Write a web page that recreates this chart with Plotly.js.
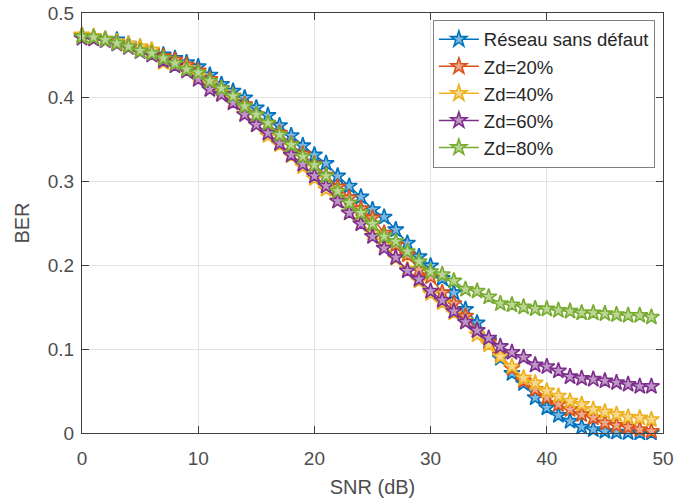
<!DOCTYPE html>
<html>
<head>
<meta charset="utf-8">
<script src="https://cdn.plot.ly/plotly-3.0.1.min.js"></script>
<style>html,body{margin:0;padding:0;background:#fff;}#chart{width:676px;height:502px;}</style>
</head>
<body>
<div id="chart"></div>
<script>
const snr = Array.from({length: 50}, (_, i) => i);
const seriesNames = ["Réseau sans défaut", "Zd=20%", "Zd=40%", "Zd=60%", "Zd=80%"];
const berSansDefaut = [0.473,0.471,0.469,0.468,0.463,0.459,0.455,0.450,0.446,0.441,0.436,0.426,0.415,0.407,0.399,0.387,0.378,0.366,0.354,0.342,0.331,0.321,0.306,0.294,0.281,0.266,0.257,0.242,0.226,0.210,0.199,0.184,0.167,0.147,0.131,0.110,0.089,0.071,0.059,0.042,0.030,0.021,0.014,0.007,0.004,0.002,0.001,0.0005,0.0002,0.0001];
const berZd20 = [0.473,0.471,0.468,0.465,0.462,0.458,0.454,0.448,0.444,0.438,0.431,0.421,0.410,0.401,0.391,0.379,0.368,0.357,0.344,0.332,0.320,0.307,0.293,0.280,0.267,0.256,0.238,0.224,0.212,0.194,0.186,0.167,0.154,0.139,0.122,0.108,0.093,0.077,0.062,0.052,0.042,0.034,0.028,0.022,0.018,0.012,0.009,0.007,0.004,0.002];
const berZd40 = [0.474,0.472,0.469,0.466,0.463,0.460,0.456,0.441,0.440,0.434,0.425,0.416,0.405,0.395,0.380,0.367,0.354,0.343,0.330,0.317,0.303,0.290,0.276,0.262,0.250,0.238,0.224,0.208,0.195,0.181,0.166,0.155,0.143,0.133,0.117,0.105,0.091,0.079,0.0655,0.0595,0.050,0.044,0.038,0.034,0.028,0.025,0.022,0.019,0.018,0.016];
const berZd60 = [0.470,0.469,0.467,0.463,0.459,0.454,0.450,0.443,0.437,0.431,0.421,0.409,0.403,0.393,0.379,0.367,0.357,0.345,0.331,0.320,0.306,0.294,0.276,0.262,0.249,0.234,0.220,0.209,0.193,0.183,0.169,0.158,0.145,0.132,0.122,0.113,0.103,0.096,0.090,0.081,0.079,0.074,0.067,0.065,0.064,0.062,0.060,0.058,0.0555,0.0555];
const berZd80 = [0.472,0.471,0.468,0.464,0.460,0.455,0.452,0.446,0.440,0.433,0.429,0.419,0.410,0.401,0.389,0.379,0.369,0.355,0.343,0.329,0.319,0.306,0.288,0.274,0.262,0.249,0.234,0.228,0.216,0.204,0.192,0.1885,0.181,0.171,0.169,0.162,0.154,0.1525,0.150,0.148,0.1476,0.146,0.145,0.143,0.143,0.142,0.141,0.140,0.140,0.138];
const xTicks = [0, 10, 20, 30, 40, 50];
const yTicks = [0, 0.1, 0.2, 0.3, 0.4, 0.5];

const colors = ["#0072BD", "#D95319", "#EDB120", "#7E2F8E", "#77AC30"];
const fills = ["#7fb8de", "#eca98c", "#f6d88f", "#be97c6", "#bbd597"];
const allY = [berSansDefaut, berZd20, berZd40, berZd60, berZd80];

const traces = allY.map((y, i) => ({
  x: snr, y: y, name: seriesNames[i], type: "scatter", mode: "lines+markers",
  cliponaxis: false,
  line: {color: colors[i], width: 1.5},
  marker: {symbol: "star", size: 12, color: fills[i], line: {color: colors[i], width: 1.6}}
}));

const fam = "Liberation Sans, Arial, sans-serif";
const axisCommon = {
  showline: true, linecolor: "#404040", linewidth: 1, mirror: "ticks",
  ticks: "inside", ticklen: 7, tickcolor: "#404040", tickwidth: 1,
  showgrid: true, gridcolor: "#e3e3e3", gridwidth: 1, zeroline: false,
  tickfont: {family: fam, size: 19, color: "#4d4d4d"}
};

const layout = {
  width: 676, height: 502,
  margin: {l: 82, r: 13, t: 13, b: 69},
  paper_bgcolor: "#fff", plot_bgcolor: "#fff",
  showlegend: true,
  xaxis: Object.assign({}, axisCommon, {
    range: [0, 50], tickvals: xTicks, ticktext: xTicks.map(String), ticklabelstandoff: 8,
    title: {text: "SNR (dB)", font: {family: fam, size: 20, color: "#4d4d4d"}, standoff: 12}
  }),
  yaxis: Object.assign({}, axisCommon, {
    range: [0, 0.5], tickvals: yTicks, ticktext: yTicks.map(String), ticklabelstandoff: 3,
    title: {text: "BER", font: {family: fam, size: 20, color: "#4d4d4d"}, standoff: 12}
  }),
  legend: {
    x: 0.986, y: 0.984, xanchor: "right", yanchor: "top",
    bgcolor: "#fff", bordercolor: "#7f7f7f", borderwidth: 1,
    font: {family: fam, size: 18.5, color: "#262626"},
    tracegroupgap: 0, itemwidth: 40
  }
};

Plotly.newPlot("chart", traces, layout, {displayModeBar: false, staticPlot: true});
</script>
</body>
</html>
